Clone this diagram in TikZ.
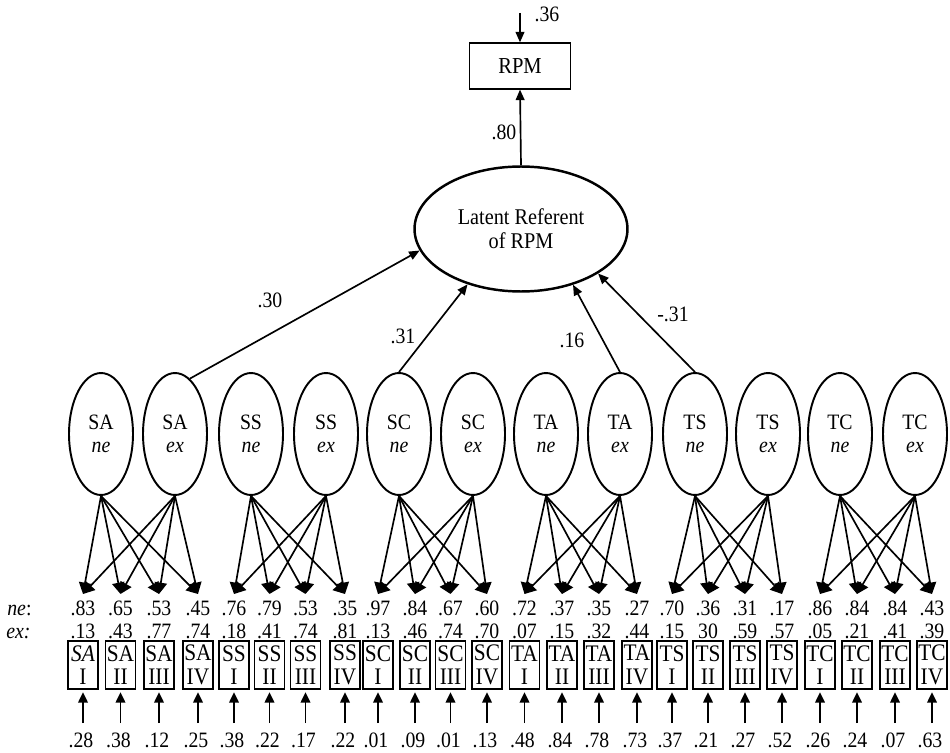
\documentclass[tikz,border=0pt]{standalone}
\usepackage{fontspec}
\setmainfont{Liberation Serif}[FakeStretch=0.9]
\usetikzlibrary{arrows.meta,shapes.geometric}
\tikzset{
  lv/.style={ellipse, draw, line width=1.1pt, inner sep=0pt, minimum width=1.28cm, minimum height=2.44cm, align=center},
  lref/.style={ellipse, draw, line width=1.4pt, inner sep=0pt, minimum width=4.26cm, minimum height=2.5cm, align=center, font=\fontsize{12.8}{13.8}\selectfont},
  obs/.style={rectangle, draw, line width=0.6pt, inner sep=0pt, minimum width=0.6cm, minimum height=0.96cm, align=center, font=\fontsize{13.5}{13.3}\selectfont},
  rbox/.style={rectangle, draw, line width=0.7pt, inner sep=0pt, minimum width=2.02cm, minimum height=0.92cm, font=\fontsize{13}{14}\selectfont},
  load/.style={-{Triangle[length=6.5pt, width=7pt]}, line width=0.95pt},
  link/.style={-{Triangle[length=6pt, width=5pt]}, line width=0.95pt},
  err/.style={-{Triangle[length=6pt, width=5.5pt]}, line width=1pt, shorten >=1.5pt},
  num/.style={anchor=base, inner sep=0pt},
}
\begin{document}
\begin{tikzpicture}[x=0.02cm, y=-0.02cm, font=\fontsize{12.5}{13.3}\selectfont]
  \useasboundingbox (0,0) rectangle (950,753);
  \node[rbox] (rpm) at (520,66) {RPM};
  \coordinate (top) at (520,13);
  \node[lref] (lat) at (521,229) {Latent Referent\\of RPM};
  \foreach \x/\g/\k in {101/SA/ne,175/SA/ex,251/SS/ne,326/SS/ex,399/SC/ne,473/SC/ex,546/TA/ne,620/TA/ex,695/TS/ne,768/TS/ex,840/TC/ne,915/TC/ex}
    \node[lv] (\g\k) at (\x,434) {\g\\\textit{\k}};
  \draw[link] (top) -- (rpm);
  \node[num] (d0) at (547,22) {.36};
  \draw[link] (lat.north) -- (rpm.south);
  \node[num] (d1) at (504,140) {.80};
  \draw[link] (SAex.75) -- (lat.192);
  \draw[link] (SCne.north) -- (lat.226);
  \draw[link] (TAex.north) -- (lat.313);
  \draw[link] (TSne.north) -- (lat.330);
  \node[num] (w1) at (270,307) {.30};
  \node[num] (w2) at (403,343) {.31};
  \node[num] (w3) at (572,347) {.16};
  \node[num] (w4) at (673,321) {-.31};
  \node[num, anchor=base west] (nelab) at (7,615) {\textit{ne}:};
  \node[num, anchor=base west] (exlab) at (6,638) {\textit{ex:}};
  \node[obs] (SAI) at (83,665) {\textit{SA}\\I};
  \foreach \x/\g/\r in {120.5/SA/II,159/SA/III,198/SA/IV,234/SS/I,269.5/SS/II,305.5/SS/III,345/SS/IV,378/SC/I,415/SC/II,450.5/SC/III,487/SC/IV,524.5/TA/I,562/TA/II,599/TA/III,637/TA/IV,672/TS/I,708/TS/II,745/TS/III,782/TS/IV,820/TC/I,857/TC/II,895/TC/III,932/TC/IV}
    \node[obs] (\g\r) at (\x,665) {\g\\\r};
  \foreach \x/\g/\r/\ne/\ex/\er in {83/SA/I/.83/.13/.28,120.5/SA/II/.65/.43/.38,159/SA/III/.53/.77/.12,198/SA/IV/.45/.74/.25,
      234/SS/I/.76/.18/.38,269.5/SS/II/.79/.41/.22,305.5/SS/III/.53/.74/.17,345/SS/IV/.35/.81/.22,
      378/SC/I/.97/.13/.01,415/SC/II/.84/.46/.09,450.5/SC/III/.67/.74/.01,487/SC/IV/.60/.70/.13,
      524.5/TA/I/.72/.07/.48,562/TA/II/.37/.15/.84,599/TA/III/.35/.32/.78,637/TA/IV/.27/.44/.73,
      672/TS/I/.70/.15/.37,708/TS/II/.36/30/.21,745/TS/III/.31/.59/.27,782/TS/IV/.17/.57/.52,
      820/TC/I/.86/.05/.26,857/TC/II/.84/.21/.24,895/TC/III/.84/.41/.07,932/TC/IV/.43/.39/.63}{
    \coordinate (t\g\r) at (\x,594);
    \node[num] (n\g\r) at (\x,615) {\ne};
    \node[num] (x\g\r) at (\x,638) {\ex};
    \coordinate (s\g\r) at (\x,723);
    \node[num] (e\g\r) at ({\x-2},747) {\er};
    \draw[load] (\g ne.south) -- (t\g\r);
    \draw[load] (\g ex.south) -- (t\g\r);
    \draw[err] (s\g\r) -- (\g\r);
  }
\end{tikzpicture}
\end{document}
